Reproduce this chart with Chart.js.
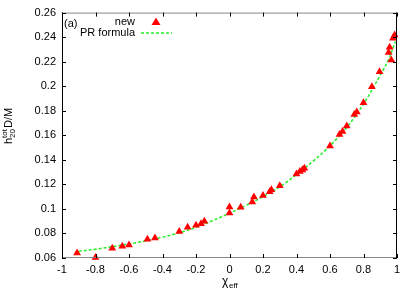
<!DOCTYPE html>
<html>
<head>
<meta charset="utf-8">
<script src="https://cdn.jsdelivr.net/npm/chart.js@4"></script>
<style>
  html, body { margin: 0; padding: 0; background: #fff; }
  #wrap { width: 415px; height: 291px; }
</style>
</head>
<body>
<div id="wrap"><canvas id="c" width="415" height="291"></canvas></div>
<script>
// "new" points
let newChi = [-0.91, -0.80, -0.70, -0.64, -0.60, -0.49, -0.445, -0.30, -0.25, -0.20, -0.17, -0.15,
  0.0, 0.0, 0.067, 0.136, 0.146, 0.20, 0.24, 0.25, 0.30, 0.40, 0.42, 0.435, 0.447, 0.60,
  0.657, 0.675, 0.70, 0.745, 0.76, 0.80, 0.85, 0.896, 0.95, 0.956, 0.966, 0.976, 0.986];
let newH = [0.064, 0.0605, 0.068, 0.0696, 0.0705, 0.0753, 0.0763, 0.0815, 0.085, 0.0867, 0.088, 0.090,
  0.1016, 0.0967, 0.1013, 0.1057, 0.1098, 0.111, 0.114, 0.1157, 0.1188, 0.1285, 0.1305, 0.1318, 0.1332, 0.1512,
  0.1607, 0.163, 0.1675, 0.177, 0.179, 0.1865, 0.1996, 0.2118, 0.2274, 0.2317, 0.2214, 0.2391, 0.2418];

// PR formula curve
let prChi = [-0.9, -0.8, -0.7, -0.6, -0.5, -0.4, -0.3, -0.2, -0.1, 0.0, 0.1, 0.2, 0.3, 0.4, 0.5, 0.6, 0.7, 0.8, 0.9, 0.95, 0.99];
let prH = [0.0655, 0.0672, 0.0692, 0.0715, 0.0740, 0.0770, 0.0805, 0.0850, 0.0905, 0.0965, 0.1030, 0.1100, 0.1180, 0.1280,
  0.1390, 0.1515, 0.1665, 0.1855, 0.2090, 0.2220, 0.2365];

let fmt = v => String(Math.round(v * 100) / 100);

let boxPlugin = {
  id: 'box',
  afterDraw(chart) {
    let ctx = chart.ctx;
    let a = chart.chartArea;
    let xs = chart.scales.x, ys = chart.scales.y;
    ctx.save();
    // frame
    ctx.lineWidth = 1;
    ctx.strokeStyle = '#888';
    ctx.beginPath();
    ctx.moveTo(a.left, a.top + 0.5); ctx.lineTo(a.right, a.top + 0.5);
    ctx.moveTo(a.left, a.bottom - 0.5); ctx.lineTo(a.right, a.bottom - 0.5);
    ctx.stroke();
    ctx.strokeStyle = '#000';
    ctx.beginPath();
    ctx.moveTo(a.left + 0.5, a.top); ctx.lineTo(a.left + 0.5, a.bottom);
    ctx.moveTo(a.right - 0.5, a.top); ctx.lineTo(a.right - 0.5, a.bottom);
    ctx.stroke();
    // inward ticks
    ctx.strokeStyle = '#000';
    ctx.beginPath();
    xs.ticks.forEach(t => {
      let px = Math.round(xs.getPixelForValue(t.value)) + 0.5;
      ctx.moveTo(px, a.bottom); ctx.lineTo(px, a.bottom - 4);
      ctx.moveTo(px, a.top); ctx.lineTo(px, a.top + 4);
    });
    ys.ticks.forEach(t => {
      let py = Math.round(ys.getPixelForValue(t.value)) + 0.5;
      ctx.moveTo(a.left, py); ctx.lineTo(a.left + 4, py);
      ctx.moveTo(a.right, py); ctx.lineTo(a.right - 4, py);
    });
    ctx.stroke();

    ctx.fillStyle = '#000';
    ctx.font = '11px "Liberation Sans", Arial, sans-serif';
    // (a) label
    ctx.textAlign = 'left';
    ctx.textBaseline = 'middle';
    ctx.fillText('(a)', a.left + 2, 24);
    // legend
    ctx.textAlign = 'right';
    ctx.fillText('new', 135, 22);
    ctx.fillText('PR formula', 135, 33);
    ctx.fillStyle = '#ff0000';
    ctx.beginPath();
    ctx.moveTo(156, 17.5); ctx.lineTo(160.5, 25); ctx.lineTo(151.5, 25);
    ctx.closePath(); ctx.fill();
    ctx.strokeStyle = '#22ee22';
    ctx.lineWidth = 1.5;
    ctx.setLineDash([3, 2]);
    ctx.beginPath();
    ctx.moveTo(141, 33); ctx.lineTo(172, 33);
    ctx.stroke();
    ctx.setLineDash([]);

    // x title: chi_eff
    ctx.fillStyle = '#000';
    ctx.textAlign = 'left';
    ctx.textBaseline = 'alphabetic';
    ctx.font = '12px "Liberation Sans", Arial, sans-serif';
    ctx.fillText('\u03c7', 222, 285);
    ctx.font = '8px "Liberation Sans", Arial, sans-serif';
    ctx.fillText('eff', 229, 288);

    // y title: h^tot_20 D/M
    ctx.translate(12, 126);
    ctx.rotate(-Math.PI / 2);
    ctx.font = '11px "Liberation Sans", Arial, sans-serif';
    ctx.fillText('h', -18, 0);
    ctx.font = '8px "Liberation Sans", Arial, sans-serif';
    ctx.fillText('tot', -12, -5);
    ctx.fillText('20', -12, 3);
    ctx.font = '11px "Liberation Sans", Arial, sans-serif';
    ctx.fillText('D/M', -2, 0);
    ctx.restore();
  }
};

let chart = new Chart(document.getElementById('c').getContext('2d'), {
  type: 'scatter',
  data: {
    datasets: [{
      label: 'PR formula',
      data: prChi.map((x, i) => ({ x: x, y: prH[i] })),
      showLine: true,
      borderColor: '#22ee22',
      borderWidth: 1.5,
      borderDash: [3, 2],
      tension: 0.4,
      pointRadius: 0,
      fill: false,
      order: 2
    }, {
      label: 'new',
      data: newChi.map((x, i) => ({ x: x, y: newH[i] })),
      pointStyle: 'triangle',
      pointRadius: 4.5,
      backgroundColor: '#ff0000',
      borderColor: '#ff0000',
      borderWidth: 0,
      order: 1
    }]
  },
  options: {
    responsive: false,
    animation: false,
    clip: false,
    layout: { padding: { left: 0, top: 12, right: 18, bottom: 0 } },
    plugins: { legend: { display: false }, tooltip: { enabled: false } },
    scales: {
      x: {
        type: 'linear', min: -1, max: 1,
        afterFit: s => { s.height = 33; },
        grid: { display: false, drawTicks: false },
        border: { display: false },
        ticks: { stepSize: 0.2, color: '#000', padding: 5, maxRotation: 0,
          font: { family: 'Liberation Sans', size: 11 }, callback: v => fmt(v) }
      },
      y: {
        type: 'linear', min: 0.06, max: 0.26,
        afterFit: s => { s.width = 62; },
        grid: { display: false, drawTicks: false },
        border: { display: false },
        ticks: { stepSize: 0.02, color: '#000', padding: 6,
          font: { family: 'Liberation Sans', size: 11 }, callback: v => fmt(v) }
      }
    }
  },
  plugins: [boxPlugin]
});
</script>
</body>
</html>
